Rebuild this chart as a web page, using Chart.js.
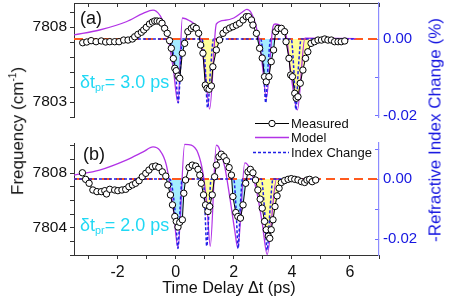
<!DOCTYPE html>
<html>
<head>
<meta charset="utf-8">
<script src="https://cdn.jsdelivr.net/npm/chart.js"></script>
<style>
  html, body { margin: 0; padding: 0; background: #fff; }
  #wrap { position: relative; width: 453px; height: 300px; overflow: hidden;
          font-family: 'Liberation Sans', Arial, sans-serif; color: #111; }
  canvas { position: absolute; left: 0; }
  #cA { top: 0; }
  #cB { top: 140px; }
  .txt { position: absolute; white-space: nowrap; line-height: 1; }
  .rot { transform: translate(-50%, -50%) rotate(-90deg); }
  .dt { color: #20d8f4; font-size: 18px; }
  .dt sub { font-size: 60%; vertical-align: -0.3em; }
  .leg { position: absolute; left: 253px; font-size: 13px; line-height: 15px; }
  .leg svg { position: absolute; left: 0; top: 2px; }
  .leg span { position: absolute; left: 38px; top: 0; white-space: nowrap; }
</style>
</head>
<body>
<div id="wrap">
  <canvas id="cA" width="453" height="130"></canvas>
  <canvas id="cB" width="453" height="160"></canvas>

  <div class="txt" style="left:80px;top:9px;font-size:18px;">(a)</div>
  <div class="txt" style="left:83px;top:145px;font-size:18px;">(b)</div>
  <div class="txt dt" style="left:80px;top:73px;">&delta;t<sub>pr</sub>= 3.0 ps</div>
  <div class="txt dt" style="left:80px;top:216px;">&delta;t<sub>pr</sub>= 2.0 ps</div>

  <div class="txt rot" style="left:17px;top:131px;font-size:17px;">Frequency (cm<sup style="font-size:60%">-1</sup>)</div>
  <div class="txt rot" style="left:435px;top:130px;font-size:17px;color:#1515e0;">-Refractive Index Change (%)</div>
  <div class="txt" style="left:229px;top:287px;font-size:16.2px;transform:translate(-50%,-50%);">Time Delay &Delta;t (ps)</div>

  <div class="leg" style="top:116px;">
    <svg width="36" height="11"><line x1="2" y1="5.5" x2="36" y2="5.5" stroke="#000" stroke-width="1"/><circle cx="19" cy="5.5" r="3.2" fill="#fff" stroke="#000" stroke-width="1"/></svg>
    <span>Measured</span>
  </div>
  <div class="leg" style="top:130px;">
    <svg width="36" height="11"><line x1="2" y1="5.5" x2="36" y2="5.5" stroke="#b233e6" stroke-width="1.4"/></svg>
    <span>Model</span>
  </div>
  <div class="leg" style="top:145px;">
    <svg width="36" height="11"><line x1="0" y1="5.5" x2="36" y2="5.5" stroke="#1f1fe6" stroke-width="1.5" stroke-dasharray="3,2"/></svg>
    <span>Index Change</span>
  </div>
</div>

<script>
const xMin = -3.5, xMax = 7;
const timeLabels = [-2, 0, 2, 4, 6];

// ---- panel (a): dt_pr = 3.0 ps ----
const baseA = 7807.2;
const freqLabelsA = [7803, 7808];
const timeMeasA = [-3.2,-3.06,-2.91,-2.74,-2.56,-2.41,-2.27,-2.1,-1.95,-1.79,-1.64,-1.49,-1.41,-1.3,-1.18,-1.1,-1.01,-0.9,-0.8,-0.72,-0.64,-0.55,-0.47,-0.38,-0.29,-0.21,-0.15,-0.08,-0.03,0.02,0.08,0.14,0.23,0.31,0.42,0.54,0.62,0.71,0.79,0.86,0.94,1.02,1.08,1.15,1.23,1.28,1.4,1.51,1.63,1.74,1.86,1.97,2.09,2.2,2.32,2.43,2.51,2.61,2.66,2.78,2.89,2.98,3.06,3.12,3.21,3.29,3.37,3.44,3.52,3.64,3.75,3.8,3.9,3.96,4.02,4.1,4.15,4.21,4.29,4.38,4.47,4.55,4.66,4.78,4.9,5.02,5.13,5.24,5.36,5.47,5.59,5.7,5.82];
const freqMeasA = [7806.95,7807.0,7807.09,7807.02,7807.07,7807.0,7807.02,7807.02,7807.02,7807.13,7807.13,7807.2,7807.35,7807.51,7807.65,7807.8,7807.98,7808.2,7808.33,7808.4,7808.4,7808.38,7808.25,7807.91,7807.58,7807.09,7806.58,7805.9,7805.25,7805.09,7804.73,7804.58,7806.25,7806.91,7807.69,7807.91,7808.02,7807.91,7807.58,7806.8,7806.25,7804.13,7803.91,7803.85,7804.07,7805.35,7806.47,7807.13,7807.58,7807.8,7807.93,7808.02,7808.13,7808.25,7808.47,7808.69,7808.69,7808.47,7808.13,7807.58,7806.58,7805.93,7804.69,7804.35,7804.69,7805.69,7806.47,7807.69,7807.91,7807.91,7807.69,7807.02,7805.91,7804.8,7804.69,7803.58,7803.25,7803.35,7804.25,7805.13,7805.91,7806.35,7806.91,7807.02,7807.13,7807.13,7807.2,7807.13,7807.13,7807.02,7807.02,7807.02,7807.07];
const timeModelA = [-3.5,-2.62,-1.7,-1.12,-0.78,-0.55,-0.32,-0.09,0.08,0.23,0.48,0.71,0.88,1.03,1.17,1.4,1.7,2.0,2.3,2.45,2.6,2.75,2.9,3.0,3.12,3.35,3.42,3.64,3.81,3.98,4.19,4.45,6.2];
const freqModelA = [7807.47,7807.8,7808.35,7808.91,7809.13,7808.8,7807.8,7805.35,7802.95,7808.6,7808.42,7808.02,7806.91,7804.69,7802.53,7808.2,7808.45,7808.6,7809.0,7809.17,7808.95,7808.2,7806.8,7805.2,7803.25,7808.02,7808.2,7808.02,7807.35,7804.69,7802.47,7807.25,7807.23];
const timeIndexA = [-1.3,-0.2,-0.1,0.0,0.09,0.15,0.2,0.25,0.9,1.0,1.1,1.2,1.3,2.93,3.02,3.1,3.18,3.27,3.98,4.06,4.14,4.22,4.32,6.2];
const indexA = [0,0,-0.003,-0.009,-0.0166,-0.01,-0.002,0,0,-0.005,-0.0179,-0.008,0,0,-0.006,-0.0166,-0.007,0,0,-0.007,-0.0184,-0.008,0,0];
const cyanWinA = [[-0.25, 0.3], [2.85, 3.45]];
const yellowWinA = [[0.8, 1.55], [3.78, 4.7]];

// ---- panel (b): dt_pr = 2.0 ps ----
const baseB = 7807.56;
const freqLabelsB = [7804, 7808];
const timeMeasB = [-3.21,-3.1,-2.98,-2.85,-2.71,-2.56,-2.44,-2.38,-2.27,-2.1,-1.99,-1.85,-1.72,-1.61,-1.49,-1.38,-1.26,-1.15,-1.03,-0.92,-0.8,-0.69,-0.58,-0.46,-0.34,-0.27,-0.18,-0.11,-0.03,0.02,0.08,0.14,0.23,0.28,0.34,0.46,0.57,0.69,0.77,0.83,0.88,0.96,1.03,1.11,1.17,1.26,1.34,1.4,1.49,1.57,1.66,1.75,1.84,1.92,1.97,2.07,2.14,2.23,2.32,2.41,2.49,2.57,2.66,2.75,2.83,2.91,2.98,3.06,3.12,3.19,3.24,3.29,3.35,3.42,3.49,3.56,3.64,3.75,3.87,3.98,4.1,4.21,4.33,4.44,4.52,4.61,4.7,4.82];
const freqMeasB = [7808.02,7807.54,7807.25,7806.76,7806.64,7806.64,7806.71,7806.47,7806.81,7806.76,7806.71,7806.76,7806.81,7807.0,7807.13,7807.25,7807.44,7807.73,7807.98,7808.22,7808.46,7808.51,7808.41,7808.09,7807.78,7807.13,7806.4,7805.67,7804.82,7804.46,7804.05,7804.39,7804.58,7806.52,7807.49,7808.41,7808.58,7808.51,7808.27,7807.85,7807.25,7806.4,7805.67,7805.19,7805.55,7806.4,7807.73,7808.58,7809.19,7809.38,7809.2,7808.9,7808.4,7807.85,7806.28,7805.11,7804.82,7804.7,7805.67,7807.25,7808.09,7808.27,7808.02,7807.49,7806.76,7806.09,7805.43,7804.46,7803.85,7803.38,7803.22,7803.85,7804.58,7805.55,7806.33,7806.89,7807.31,7807.45,7807.54,7807.59,7807.54,7807.49,7807.37,7807.31,7807.49,7807.54,7807.37,7807.49];
const timeModelB = [-3.5,-2.62,-1.7,-1.12,-0.78,-0.55,-0.32,-0.09,0.08,0.31,0.54,0.77,0.94,1.08,1.19,1.4,1.48,1.55,1.69,1.86,2.03,2.14,2.38,2.55,2.78,2.98,3.15,3.47,4.8];
const freqModelB = [7807.85,7808.22,7808.95,7809.55,7809.91,7809.67,7808.58,7805.55,7802.52,7810.1,7810.04,7809.45,7808.0,7805.55,7802.64,7810.04,7809.9,7809.45,7808.46,7806.28,7803.85,7802.52,7808.75,7808.34,7806.76,7804.34,7802.04,7807.54,7807.54];
const timeIndexB = [-3.5,-0.2,-0.1,0.0,0.08,0.15,0.22,0.95,1.0,1.07,1.15,1.22,2.0,2.08,2.15,2.22,2.3,2.95,3.05,3.15,3.25,3.35,4.95];
const indexB = [0,0,-0.004,-0.013,-0.0231,-0.01,0,0,-0.008,-0.0223,-0.01,0,0,-0.01,-0.0231,-0.01,0,0,-0.009,-0.0237,-0.01,0,0];
const cyanWinB = [[-0.3, 0.35], [1.9, 2.45]];
const yellowWinB = [[0.85, 1.35], [2.8, 3.7]];

const indexLabels = [0, -0.02];

const FONT = "'Liberation Sans', Arial, sans-serif";
Chart.defaults.font.family = FONT;

function pts(ts, vs) {
    return ts.map((t, i) => ({ x: t, y: vs[i] }));
}

// measured curve cut at the baseline inside the shaded windows
function shade(ts, vs, wins, base) {
    return ts.map((t, i) => {
        const inside = wins.some(w => t >= w[0] && t <= w[1]);
        return { x: t, y: inside ? Math.min(vs[i], base) : base };
    });
}

function fixSize(prop, size) {
    return s => {
        s[prop] = size;
        s.paddingTop = 0; s.paddingBottom = 0;
        s.paddingLeft = 0; s.paddingRight = 0;
    };
}

function has(list, v) {
    return list.some(t => Math.abs(t - v) < 1e-6);
}

function makePanel(id, p) {
    const ctx = document.getElementById(id);
    return new Chart(ctx, {
        type: 'line',
        data: {
            datasets: [
                {
                    data: shade(p.tMeas, p.fMeas, p.cyan, p.base),
                    yAxisID: 'y', borderWidth: 0, pointRadius: 0,
                    backgroundColor: '#a4ecff', fill: { value: p.base }, order: 10
                },
                {
                    data: shade(p.tMeas, p.fMeas, p.yellow, p.base),
                    yAxisID: 'y', borderWidth: 0, pointRadius: 0,
                    backgroundColor: '#ffff99', fill: { value: p.base }, order: 9
                },
                {
                    data: [{ x: xMin, y: 0 }, { x: xMax, y: 0 }],
                    yAxisID: 'y2', borderColor: '#ff5a1e', borderWidth: 2,
                    borderDash: [9, 5], pointRadius: 0, order: 6
                },
                {
                    label: 'Model',
                    data: pts(p.tModel, p.fModel),
                    yAxisID: 'y', borderColor: '#b233e6', borderWidth: 1.3,
                    pointRadius: 0, cubicInterpolationMode: 'monotone', order: 4
                },
                {
                    label: 'Index Change',
                    data: pts(p.tIndex, p.index),
                    yAxisID: 'y2', borderColor: '#1f1fe6', borderWidth: 1.5,
                    borderDash: [3, 2], pointRadius: 0,
                    cubicInterpolationMode: 'monotone', order: 3
                },
                {
                    label: 'Measured',
                    data: pts(p.tMeas, p.fMeas),
                    yAxisID: 'y', borderColor: '#000', borderWidth: 1,
                    pointRadius: 3.2, pointBackgroundColor: '#fff',
                    pointBorderColor: '#000', pointBorderWidth: 1, order: 1
                }
            ]
        },
        options: {
            responsive: false,
            animation: false,
            events: [],
            layout: { autoPadding: false, padding: p.padding },
            plugins: { legend: { display: false }, tooltip: { enabled: false } },
            scales: {
                x: {
                    type: 'linear', min: xMin, max: xMax,
                    position: p.xTop ? 'top' : 'bottom',
                    afterFit: fixSize('height', p.xHeight),
                    border: { color: '#333', width: 1 },
                    grid: { drawOnChartArea: false, tickLength: p.xTop ? -4 : 4, color: '#333' },
                    ticks: {
                        display: !p.xTop, stepSize: 1, includeBounds: false,
                        autoSkip: false, maxRotation: 0, padding: 4,
                        color: '#111', font: { size: 16 },
                        callback: v => has(timeLabels, v) ? String(v) : ''
                    }
                },
                y: {
                    type: 'linear', position: 'left', min: p.yMin, max: p.yMax,
                    afterFit: fixSize('width', 74),
                    border: { color: '#333', width: 1 },
                    grid: { drawOnChartArea: false, tickLength: 4, color: '#333' },
                    ticks: {
                        stepSize: 1, includeBounds: false, autoSkip: false, padding: 3,
                        color: '#111', font: { size: 15.5 },
                        callback: v => has(p.freqLabels, v) ? String(v) : ''
                    }
                },
                y2: {
                    type: 'linear', position: 'right', min: p.rMin, max: p.rMax,
                    afterFit: fixSize('width', 74),
                    border: { color: '#8c8cff', width: 1.2 },
                    grid: { drawOnChartArea: false, tickLength: -4, color: '#6f6fff' },
                    ticks: {
                        stepSize: 0.01, includeBounds: false, autoSkip: false, padding: 8,
                        color: '#1515e0', font: { size: 15 },
                        callback: v => has(indexLabels, v) ? v.toFixed(2) : ''
                    }
                }
            }
        }
    });
}

makePanel('cA', {
    base: baseA, freqLabels: freqLabelsA,
    tMeas: timeMeasA, fMeas: freqMeasA,
    tModel: timeModelA, fModel: freqModelA,
    tIndex: timeIndexA, index: indexA,
    cyan: cyanWinA, yellow: yellowWinA,
    yMin: 7802, yMax: 7809.6, rMin: -0.0203, rMax: 0.0094,
    xTop: true, xHeight: 3,
    padding: { top: 0, bottom: 13, left: 0, right: 0 }
});

makePanel('cB', {
    base: baseB, freqLabels: freqLabelsB,
    tMeas: timeMeasB, fMeas: freqMeasB,
    tModel: timeModelB, fModel: freqModelB,
    tIndex: timeIndexB, index: indexB,
    cyan: cyanWinB, yellow: yellowWinB,
    yMin: 7802, yMax: 7810.2, rMin: -0.0253, rMax: 0.012,
    xTop: false, xHeight: 45,
    padding: { top: 3, bottom: 0, left: 0, right: 0 }
});
</script>
</body>
</html>
